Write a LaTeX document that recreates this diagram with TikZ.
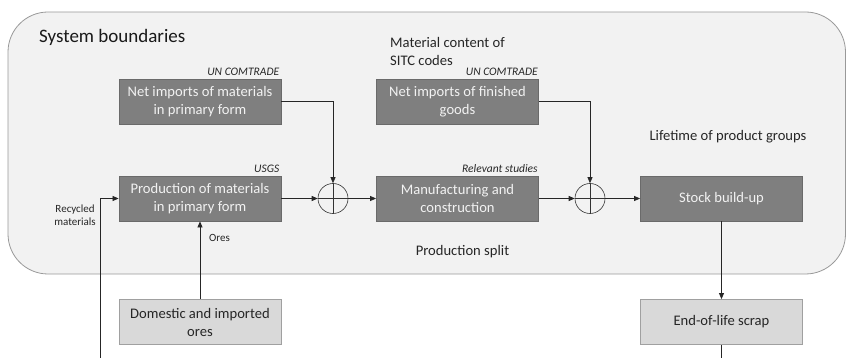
\documentclass[tikz,border=0pt]{standalone}
\usepackage{fontspec}
\setmainfont{Carlito}
\usetikzlibrary{arrows.meta}
\definecolor{boundfill}{HTML}{F2F2F2}
\definecolor{boundline}{HTML}{999999}
\definecolor{darkbox}{HTML}{7F7F7F}
\definecolor{darkedge}{HTML}{6A6A6A}
\definecolor{lightbox}{HTML}{D9D9D9}
\definecolor{lightedge}{HTML}{A0A0A0}
\definecolor{boxtext}{HTML}{F2F2F2}
\tikzset{
  darkstep/.style={draw=darkedge, fill=darkbox, line width=0.8pt,
    minimum width=162pt, minimum height=45pt, inner sep=2pt,
    text=boxtext, align=center, font=\fontsize{14.6}{18}\selectfont},
  lightstep/.style={draw=lightedge, fill=lightbox, line width=0.8pt,
    minimum width=162pt, minimum height=45pt, inner sep=2pt,
    text=black!85, align=center, font=\fontsize{14.6}{18}\selectfont},
  sumnode/.style={draw=black!80, circle, minimum size=30pt, inner sep=0pt, line width=0.6pt},
  flow/.style={draw=black!85, line width=0.7pt, -{Triangle[length=6pt,width=5pt]}},
  plainflow/.style={draw=black!85, line width=0.7pt},
  source/.style={font=\fontsize{11.5}{13}\selectfont\itshape, text=black!85, inner sep=0pt},
  note/.style={font=\fontsize{14.6}{18}\selectfont, text=black!85, inner sep=0pt},
  smallnote/.style={font=\fontsize{11}{13.5}\selectfont, text=black!85, inner sep=0pt},
}
\begin{document}
\begin{tikzpicture}[x=1pt, y=-1pt]
\useasboundingbox (0,0) rectangle (846,358);

% system boundary
\draw[boundline, fill=boundfill, line width=0.8pt, rounded corners=40pt]
  (8,12) rectangle (845.5,274);
\node[anchor=west, font=\fontsize{19}{22}\selectfont, text=black!90, inner sep=0pt]
  (sysb) at (39,37) {System boundaries};

% process boxes
\node[darkstep] (nim) at (200,101.5) {Net imports of materials\\in primary form};
\node[darkstep] (prod) at (200,198.5) {Production of materials\\in primary form};
\node[lightstep] (ores) at (200,322) {Domestic and imported\\ores};
\node[darkstep] (nfg) at (457.5,101.5) {Net imports of finished\\goods};
\node[darkstep] (manu) at (457.5,198.5) {Manufacturing and\\construction};
\node[darkstep] (stock) at (721.5,198.5) {Stock build-up};
\node[lightstep] (eol) at (721.5,322) {End-of-life scrap};

% summation points
\node[sumnode] (c1) at (333,198.5) {};
\node[sumnode] (c2) at (590,198.5) {};
\foreach \c in {c1,c2}{
  \draw[black!80, line width=0.6pt] (\c.north) -- (\c.south) (\c.west) -- (\c.east);
}

% data sources
\node[source, anchor=south east] (src1) at (nim.north east) [xshift=-2pt, yshift=3pt] {UN COMTRADE};
\node[source, anchor=south east] (src2) at (prod.north east) [xshift=-2pt, yshift=3pt] {USGS};
\node[source, anchor=south east] (src3) at (nfg.north east) [xshift=-1pt, yshift=3pt] {UN COMTRADE};
\node[source, anchor=south east] (src4) at (manu.north east) [xshift=-1pt, yshift=3pt] {Relevant studies};

% annotations
\node[note, anchor=north west, align=left] (sitc) at (390,37) {Material content of\\SITC codes};
\node[note, anchor=center] (life) at (728,137) {Lifetime of product groups};
\node[note, anchor=center] (split) at (462.5,252) {Production split};
\node[smallnote, anchor=east, align=center] (recl) at (96,215) {Recycled\\materials};
\node[smallnote, anchor=west] (orel) at (209,238) {Ores};

% flows
\coordinate (recb) at (100,358);
\coordinate (eolb) at (721.5,358);
\draw[flow] (nim.east) -| (c1.north);
\draw[flow] (prod.east) -- (c1.west);
\draw[flow] (c1.east) -- (manu.west);
\draw[flow] (nfg.east) -| (c2.north);
\draw[flow] (manu.east) -- (c2.west);
\draw[flow] (c2.east) -- (stock.west);
\draw[flow] (stock.south) -- (eol.north);
\draw[plainflow] (eol.south) -- (eolb);
\draw[flow] (ores.north) -- (prod.south);
\draw[flow] (recb) |- (prod.west);
\end{tikzpicture}
\end{document}
